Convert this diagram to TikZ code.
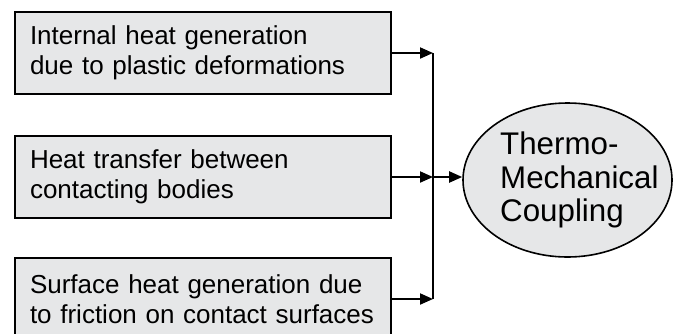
\documentclass[tikz,border=0pt]{standalone}
\usepackage{fontspec}
\setmainfont{Liberation Sans}
\usetikzlibrary{arrows.meta,shapes.geometric}
\definecolor{boxgray}{HTML}{E6E7E8}
\begin{document}
\begin{tikzpicture}[x=1pt,y=-1pt,
  srcbox/.style={draw=black,fill=boxgray,line width=2pt,minimum width=376pt,minimum height=82pt,
    text width=346pt,inner xsep=15pt,align=left,font=\fontsize{26}{30}\selectfont},
  goal/.style={ellipse,draw=black,fill=boxgray,line width=1.6pt,minimum width=209pt,minimum height=154pt,
    inner sep=0pt},
  goaltext/.style={inner sep=0pt,align=left,font=\fontsize{31.3}{33.5}\selectfont},
  conn/.style={line width=2pt},
  arr/.style={conn,-{Triangle[length=13pt,width=11pt]}}]
\useasboundingbox (0,0) rectangle (679,333);
\begin{scope}
\clip (0,0) rectangle (679,333);
\node[srcbox] (b1) at (203,53) {Internal heat generation\\due to plastic deformations};
\node[srcbox] (b2) at (203,177) {Heat transfer between\\contacting bodies};
\node[srcbox] (b3) at (203,299) {Surface heat generation due\\to friction on contact surfaces};
\end{scope}
\node[goal] (g) at (567.5,180) {};
\node[goaltext,anchor=west] (gt) at (500,180) {Thermo-\\Mechanical\\Coupling};
\coordinate (j1) at (433,53);
\coordinate (j2) at (433,177);
\coordinate (j3) at (433,299);
\draw[arr] (b1.east) -- (j1);
\draw[arr] (b2.east) -- (j2);
\draw[arr] (b3.east) -- (j3);
\draw[conn] (j1) -- (j3);
\draw[arr] (j2) -- (g.west |- j2);
\end{tikzpicture}
\end{document}
